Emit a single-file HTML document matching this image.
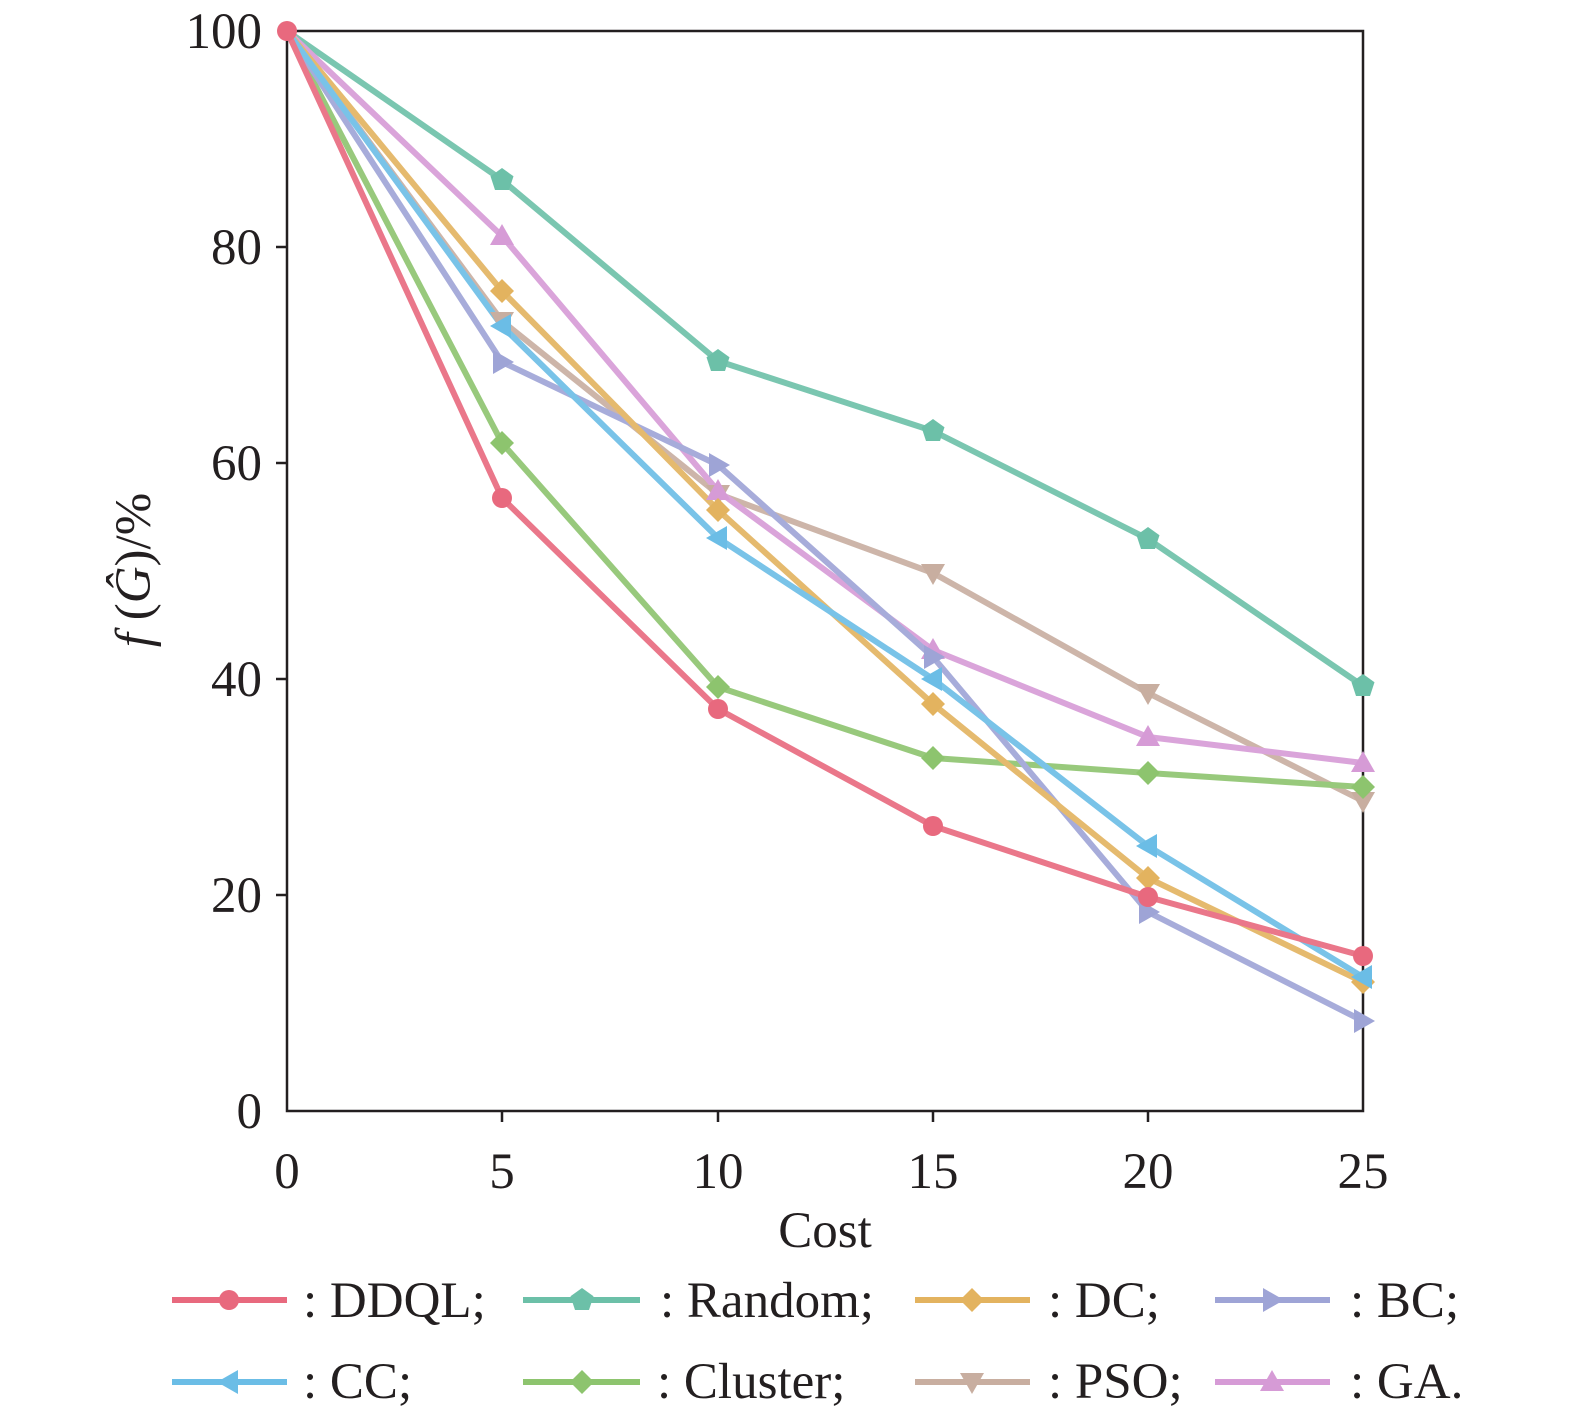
<!DOCTYPE html>
<html><head><meta charset="utf-8"><style>
body{margin:0;background:#fff}
svg{display:block}
text{font-family:"Liberation Serif",serif;fill:#231f20}
</style></head><body>
<svg width="1575" height="1419" viewBox="0 0 1575 1419" xmlns="http://www.w3.org/2000/svg">
<defs>
<g id="mc"><circle r="10"/></g>
<g id="mp"><polygon points="0,-12 11.5,-3.7 7,10 -7,10 -11.5,-3.7"/></g>
<g id="md"><polygon points="0,-12 12,0 0,12 -12,0"/></g>
<g id="mr"><polygon points="-9,-12 12,0 -9,12"/></g>
<g id="ml"><polygon points="9,-12 -12,0 9,12"/></g>
<g id="mdn"><polygon points="-12,-9 12,-9 0,12"/></g>
<g id="mup"><polygon points="-12,9 12,9 0,-12"/></g>
</defs>
<rect x="287" y="31" width="1076" height="1080" fill="none" stroke="#231f20" stroke-width="2.5"/>
<g stroke="#231f20" stroke-width="2.5">
<line x1="502" y1="1111" x2="502" y2="1122"/><line x1="718" y1="1111" x2="718" y2="1122"/>
<line x1="933" y1="1111" x2="933" y2="1122"/><line x1="1148" y1="1111" x2="1148" y2="1122"/>
<line x1="287" y1="895" x2="276" y2="895"/><line x1="287" y1="679" x2="276" y2="679"/>
<line x1="287" y1="463" x2="276" y2="463"/><line x1="287" y1="247" x2="276" y2="247"/>
</g>
<g font-size="51" text-anchor="end">
<text x="262" y="1128">0</text><text x="262" y="912">20</text><text x="262" y="696">40</text>
<text x="262" y="480">60</text><text x="262" y="264">80</text><text x="262" y="48">100</text>
</g>
<g font-size="51" text-anchor="middle">
<text x="287" y="1188">0</text><text x="502" y="1188">5</text><text x="718" y="1188">10</text>
<text x="933" y="1188">15</text><text x="1148" y="1188">20</text><text x="1363" y="1188">25</text>
<text x="825" y="1247">Cost</text>
</g>
<text font-size="51" transform="translate(150,570) rotate(-90)" text-anchor="middle"><tspan font-style="italic">f</tspan> (<tspan font-style="italic">Ĝ</tspan>)/%</text>
<g fill="none" stroke-width="6" stroke-linejoin="round" opacity="0.9">
<polyline stroke="#6cc0a8" points="287,31 502,180 718,361 933,431 1148,539 1363,686"/>
<polyline stroke="#c8aea0" points="287,31 502,321 718,494 933,573 1148,693 1363,801"/>
<polyline stroke="#d69bd6" points="287,31 502,236 718,491 933,650 1148,737 1363,763"/>
<polyline stroke="#8dc46e" points="287,31 502,443 718,687 933,758 1148,773 1363,787"/>
<polyline stroke="#9ea4d6" points="287,31 502,362 718,465 933,657 1148,912 1363,1021"/>
<polyline stroke="#e3b35f" points="287,31 502,291 718,510 933,704 1148,878 1363,982"/>
<polyline stroke="#6bbde6" points="287,31 502,326 718,538 933,679 1148,846 1363,977"/>
<polyline stroke="#e8697e" points="287,31 502,498 718,709 933,826 1148,897 1363,956"/>
</g>
<g fill="#6cc0a8"><use href="#mp" x="502" y="180"/><use href="#mp" x="718" y="361"/><use href="#mp" x="933" y="431"/><use href="#mp" x="1148" y="539"/><use href="#mp" x="1363" y="686"/></g>
<g fill="#c8aea0"><use href="#mdn" x="502" y="321"/><use href="#mdn" x="718" y="494"/><use href="#mdn" x="933" y="573"/><use href="#mdn" x="1148" y="693"/><use href="#mdn" x="1363" y="801"/></g>
<g fill="#d69bd6"><use href="#mup" x="502" y="236"/><use href="#mup" x="718" y="491"/><use href="#mup" x="933" y="650"/><use href="#mup" x="1148" y="737"/><use href="#mup" x="1363" y="763"/></g>
<g fill="#8dc46e"><use href="#md" x="502" y="443"/><use href="#md" x="718" y="687"/><use href="#md" x="933" y="758"/><use href="#md" x="1148" y="773"/><use href="#md" x="1363" y="787"/></g>
<g fill="#9ea4d6"><use href="#mr" x="502" y="362"/><use href="#mr" x="718" y="465"/><use href="#mr" x="933" y="657"/><use href="#mr" x="1148" y="912"/><use href="#mr" x="1363" y="1021"/></g>
<g fill="#e3b35f"><use href="#md" x="502" y="291"/><use href="#md" x="718" y="510"/><use href="#md" x="933" y="704"/><use href="#md" x="1148" y="878"/><use href="#md" x="1363" y="982"/></g>
<g fill="#6bbde6"><use href="#ml" x="502" y="326"/><use href="#ml" x="718" y="538"/><use href="#ml" x="933" y="679"/><use href="#ml" x="1148" y="846"/><use href="#ml" x="1363" y="977"/></g>
<g fill="#e8697e"><use href="#mc" x="287" y="31"/><use href="#mc" x="502" y="498"/><use href="#mc" x="718" y="709"/><use href="#mc" x="933" y="826"/><use href="#mc" x="1148" y="897"/><use href="#mc" x="1363" y="956"/></g>
<g stroke-width="6">
<line x1="172" y1="1300" x2="287" y2="1300" stroke="#e8697e"/>
<line x1="523" y1="1300" x2="640" y2="1300" stroke="#6cc0a8"/>
<line x1="915" y1="1300" x2="1030" y2="1300" stroke="#e3b35f"/>
<line x1="1215" y1="1300" x2="1330" y2="1300" stroke="#9ea4d6"/>
<line x1="172" y1="1382" x2="287" y2="1382" stroke="#6bbde6"/>
<line x1="523" y1="1382" x2="640" y2="1382" stroke="#8dc46e"/>
<line x1="915" y1="1382" x2="1030" y2="1382" stroke="#c8aea0"/>
<line x1="1215" y1="1382" x2="1330" y2="1382" stroke="#d69bd6"/>
</g>
<use href="#mc" x="229" y="1300" fill="#e8697e"/>
<use href="#mp" x="582" y="1300" fill="#6cc0a8"/>
<use href="#md" x="972" y="1300" fill="#e3b35f"/>
<use href="#mr" x="1272" y="1300" fill="#9ea4d6"/>
<use href="#ml" x="229" y="1382" fill="#6bbde6"/>
<use href="#md" x="582" y="1382" fill="#8dc46e"/>
<use href="#mdn" x="972" y="1382" fill="#c8aea0"/>
<use href="#mup" x="1272" y="1382" fill="#d69bd6"/>
<g font-size="51">
<text x="303" y="1317">: DDQL;</text>
<text x="660" y="1317">: Random;</text>
<text x="1048" y="1317">: DC;</text>
<text x="1350" y="1317">: BC;</text>
<text x="303" y="1398">: CC;</text>
<text x="657" y="1398">: Cluster;</text>
<text x="1048" y="1398">: PSO;</text>
<text x="1350" y="1398">: GA.</text>
</g>
</svg>
</body></html>
